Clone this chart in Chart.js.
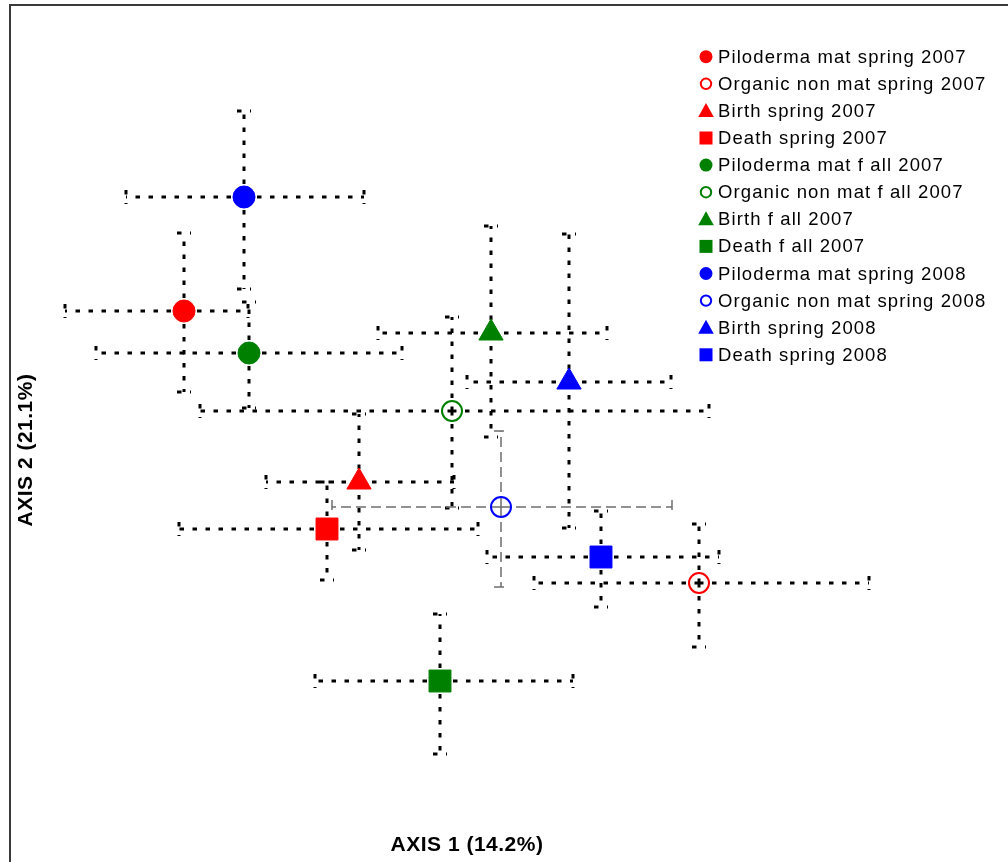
<!DOCTYPE html>
<html>
<head>
<meta charset="utf-8">
<script src="https://cdn.jsdelivr.net/npm/chart.js@4"></script>
<style>
  html, body { margin: 0; padding: 0; background: #fff; }
  #wrap { width: 1008px; height: 862px; position: relative; }
</style>
</head>
<body>
<div id="wrap"><canvas id="ordChart"></canvas></div>
<script>
// group names, in legend order
const groups = [
  'Piloderma mat spring 2007', 'Organic non mat spring 2007', 'Birth spring 2007', 'Death spring 2007',
  'Piloderma mat f all 2007', 'Organic non mat f all 2007', 'Birth f all 2007', 'Death f all 2007',
  'Piloderma mat spring 2008', 'Organic non mat spring 2008', 'Birth spring 2008', 'Death spring 2008'
];

// ordination scores (axis 1, axis 2) and their ranges
const axis1 = [-1.132, 0.928, -0.432, -0.56, -0.872, -0.06, 0.096, -0.108, -0.892, 0.136, 0.408, 0.536];
const axis2 = [0.556, -0.532, -0.128, -0.316, 0.388, 0.156, 0.468, -0.924, 1.012, -0.228, 0.272, -0.428];
const axis1Low = [-1.608, 0.268, -0.804, -1.152, -1.484, -1.068, -0.356, -0.608, -1.364, -0.54, 0.0, 0.08];
const axis1High = [-0.876, 1.608, -0.052, 0.044, -0.26, 0.968, 0.56, 0.424, -0.412, 0.82, 0.816, 1.008];
const axis2Low = [0.232, -0.788, -0.4, -0.52, 0.168, -0.232, 0.052, -1.216, 0.644, -0.548, -0.312, -0.628];
const axis2High = [0.868, -0.296, 0.144, -0.128, 0.592, 0.532, 0.896, -0.656, 1.356, 0.076, 0.864, -0.244];

const axisTitles = ['AXIS 1 (14.2%)', 'AXIS 2 (21.1%)'];

// look of each group
const seasonColors = ['#ff0000', '#008000', '#0000ff'];
const shapes = ['dot', 'ring', 'triangle', 'square'];

function markerFor(i) {
  const color = seasonColors[Math.floor(i / 4)];
  const shape = shapes[i % 4];
  if (shape === 'dot') return { pointStyle: 'circle', pointRadius: 11, backgroundColor: color, borderColor: color, borderWidth: 1 };
  if (shape === 'ring') return { pointStyle: 'circle', pointRadius: 10, backgroundColor: 'rgba(0,0,0,0)', borderColor: color, borderWidth: 2 };
  if (shape === 'triangle') return { pointStyle: 'triangle', pointRadius: 14, backgroundColor: color, borderColor: color, borderWidth: 1 };
  return { pointStyle: 'rect', pointRadius: 15.5, backgroundColor: color, borderColor: color, borderWidth: 1 };
}

const datasets = groups.map((name, i) => {
  const m = markerFor(i);
  return {
    label: name,
    data: [{ x: axis1[i], y: axis2[i] }],
    shape: shapes[i % 4],
    color: seasonColors[Math.floor(i / 4)],
    pointStyle: m.pointStyle,
    pointRadius: m.pointRadius,
    pointHoverRadius: m.pointRadius,
    backgroundColor: m.backgroundColor,
    borderColor: m.borderColor,
    borderWidth: m.borderWidth
  };
});

// white page with frame on left and top
const framePlugin = {
  id: 'frame',
  beforeDraw(chart) {
    const c = chart.ctx;
    c.save();
    c.fillStyle = '#fff';
    c.fillRect(0, 0, chart.width, chart.height);
    c.strokeStyle = '#3a3a3a';
    c.lineWidth = 2;
    c.strokeRect(10, 5, chart.width + 20, chart.height + 20);
    c.restore();
  },
  afterDraw(chart) {
    const c = chart.ctx;
    c.save();
    c.fillStyle = '#000';
    c.font = 'bold 21px "Liberation Sans", Arial, sans-serif';
    c.letterSpacing = '0.5px';
    c.textAlign = 'center';
    c.textBaseline = 'middle';
    c.fillText(axisTitles[0], 467, 845);
    c.translate(26, 450);
    c.rotate(-Math.PI / 2);
    c.fillText(axisTitles[1], 0, 0);
    c.restore();
  }
};

// dotted range bars with small caps
const rangePlugin = {
  id: 'ranges',
  beforeDatasetsDraw(chart) {
    const c = chart.ctx;
    const xs = chart.scales.x, ys = chart.scales.y;
    const cap = 7;
    groups.forEach((g, i) => {
      const px = xs.getPixelForValue(axis1[i]);
      const py = ys.getPixelForValue(axis2[i]);
      const x0 = xs.getPixelForValue(axis1Low[i]);
      const x1 = xs.getPixelForValue(axis1High[i]);
      const y0 = ys.getPixelForValue(axis2High[i]);
      const y1 = ys.getPixelForValue(axis2Low[i]);
      c.save();
      if (i === 9) {
        c.strokeStyle = '#6e6e6e';
        c.lineWidth = 1.5;
        c.setLineDash([10, 5]);
      } else {
        c.strokeStyle = '#000';
        c.lineWidth = 3;
        c.setLineDash([4.5, 8.5]);
      }
      const seg = (ax, ay, bx, by) => {
        c.beginPath();
        c.moveTo(ax, ay);
        c.lineTo(bx, by);
        c.stroke();
      };
      seg(px, py, x0, py);
      seg(px, py, x1, py);
      seg(px, py, px, y0);
      seg(px, py, px, y1);
      seg(x0, py - cap, x0, py + cap);
      seg(x1, py - cap, x1, py + cap);
      seg(px - cap, y0, px + cap, y0);
      seg(px - cap, y1, px + cap, y1);
      c.restore();
    });
  }
};

// legend drawn inside the plot, top right
const legendPlugin = {
  id: 'innerLegend',
  afterDraw(chart) {
    const c = chart.ctx;
    const left = 706, top = 56.7, step = 27.1;
    c.save();
    chart.data.datasets.forEach((ds, i) => {
      const y = top + i * step;
      c.fillStyle = ds.color;
      c.strokeStyle = ds.color;
      c.beginPath();
      if (ds.shape === 'dot') {
        c.arc(left, y, 6.5, 0, Math.PI * 2);
        c.fill();
      } else if (ds.shape === 'ring') {
        c.lineWidth = 2;
        c.arc(left, y, 5.2, 0, Math.PI * 2);
        c.stroke();
      } else if (ds.shape === 'triangle') {
        c.moveTo(left, y - 8);
        c.lineTo(left + 7.8, y + 6);
        c.lineTo(left - 7.8, y + 6);
        c.closePath();
        c.fill();
      } else {
        c.rect(left - 6.5, y - 6.5, 13, 13);
        c.fill();
      }
      c.fillStyle = '#000';
      c.font = '18.5px "Liberation Sans", Arial, sans-serif';
      c.letterSpacing = '1.1px';
      c.textAlign = 'left';
      c.textBaseline = 'middle';
      c.fillText(ds.label, 718, y + 1);
    });
    c.restore();
  }
};

const ctx = document.getElementById('ordChart').getContext('2d');
const ordChart = new Chart(ctx, {
  type: 'scatter',
  data: { datasets: datasets },
  options: {
    responsive: true,
    maintainAspectRatio: false,
    animation: false,
    layout: { padding: 0, autoPadding: false },
    plugins: {
      legend: { display: false },
      tooltip: { enabled: false }
    },
    scales: {
      x: { type: 'linear', min: -1.868, max: 2.164, display: false },
      y: { type: 'linear', min: -1.648, max: 1.8, display: false }
    }
  },
  plugins: [framePlugin, rangePlugin, legendPlugin]
});
</script>
</body>
</html>
